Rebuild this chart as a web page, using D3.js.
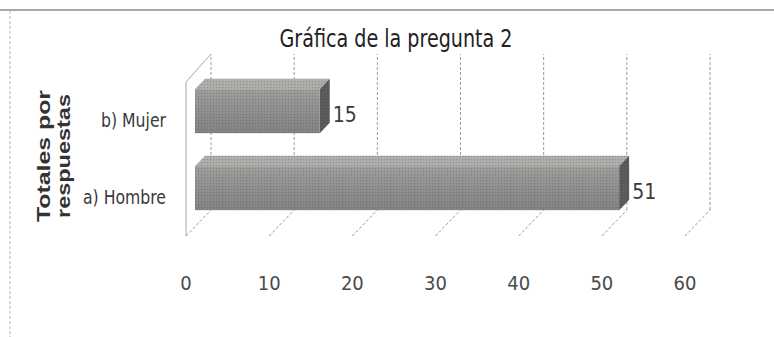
<!DOCTYPE html>
<html>
<head>
<meta charset="utf-8">
<script src="https://cdn.jsdelivr.net/npm/d3@7"></script>
<style>
  html, body { margin: 0; padding: 0; background: #fff; }
  svg { display: block; }
  text { font-family: "Liberation Sans Narrow", "DejaVu Sans Condensed", "Liberation Sans", sans-serif; }
</style>
</head>
<body>
<svg id="chart" width="774" height="337"></svg>
<script>
// Survey question 2: totals per answer
const categories = ["a) Hombre", "b) Mujer"];
const values = [51, 15];
const tickValues = [0, 10, 20, 30, 40, 50, 60];
const chartTitle = "Gráfica de la pregunta 2";
const axisTitleLines = ["Totales por", "respuestas"];

const svg = d3.select("#chart");
const W = 774, H = 337;

// 3D plot box: front plane and depth offset toward the back wall
const frontBottom = 236, frontTop = 82;
const depthX = 25, depthY = -26;
const backTop = 54;

const x = d3.scaleLinear().domain([0, 60]).range([186, 685]);
const y = d3.scaleBand().domain(categories).range([frontBottom, frontTop]).padding(0);
const barThick = y.bandwidth() / 1.75;      // gap width 75%
const barFront = 0.36, barBack = 0.76;      // bar depth position inside the box

// defs: bar shading and halftone grain
const defs = svg.append("defs");
const gFront = defs.append("linearGradient").attr("id", "gFront").attr("x1", 0).attr("y1", 0).attr("x2", 0).attr("y2", 1);
gFront.append("stop").attr("offset", "0%").attr("stop-color", "#9d9d9b");
gFront.append("stop").attr("offset", "45%").attr("stop-color", "#8d8e8f");
gFront.append("stop").attr("offset", "100%").attr("stop-color", "#7e7f80");
const grain = defs.append("pattern").attr("id", "grain").attr("width", 3).attr("height", 3).attr("patternUnits", "userSpaceOnUse");
grain.append("rect").attr("width", 1.2).attr("height", 1.2).attr("fill", "#5e5e5e").attr("opacity", 0.35);
grain.append("rect").attr("x", 1.5).attr("y", 1.5).attr("width", 1).attr("height", 1).attr("fill", "#d6d6d6").attr("opacity", 0.3);

// chart frame
svg.append("line").attr("x1", 0).attr("x2", W).attr("y1", 10).attr("y2", 10)
  .attr("stroke", "#8a8a8a").attr("stroke-width", 1.6);
svg.append("line").attr("x1", 10).attr("x2", 10).attr("y1", 11).attr("y2", H)
  .attr("stroke", "#b5b5b5").attr("stroke-width", 1).attr("stroke-dasharray", "3,2");

// back wall gridlines
const grid = svg.append("g").attr("stroke", "#9a9a9a").attr("stroke-width", 1).attr("stroke-dasharray", "3,2").attr("fill", "none");
grid.selectAll("line.back").data(tickValues).join("line").attr("class", "back")
  .attr("x1", d => x(d) + depthX).attr("x2", d => x(d) + depthX)
  .attr("y1", frontBottom + depthY).attr("y2", backTop);
// floor gridlines
grid.selectAll("line.floor").data(tickValues).join("line").attr("class", "floor")
  .attr("x1", d => x(d)).attr("x2", d => x(d) + depthX)
  .attr("y1", frontBottom).attr("y2", frontBottom + depthY);

// left wall edges
const wall = svg.append("g").attr("stroke", "#a8a8a8").attr("stroke-width", 1).attr("fill", "none");
wall.append("line").attr("x1", x(0)).attr("x2", x(0)).attr("y1", frontTop).attr("y2", frontBottom);
wall.append("line").attr("x1", x(0)).attr("x2", x(0) + depthX).attr("y1", frontTop).attr("y2", backTop);

// bars
const data = categories.map((c, i) => ({ cat: c, val: values[i] }));
const bars = svg.append("g");
data.forEach(d => {
  const cy = y(d.cat) + y.bandwidth() / 2;
  const fx0 = x(0) + depthX * barFront, fx1 = x(d.val) + depthX * barFront;
  const fy0 = cy - barThick / 2 + depthY * barFront, fy1 = cy + barThick / 2 + depthY * barFront;
  const ox = depthX * (barBack - barFront), oy = depthY * (barBack - barFront);
  const g = bars.append("g");
  // top face
  const top = [[fx0, fy0], [fx0 + ox, fy0 + oy], [fx1 + ox, fy0 + oy], [fx1, fy0]];
  g.append("path").attr("d", d3.line()(top) + "Z").attr("fill", "#aeadaa");
  g.append("path").attr("d", d3.line()(top) + "Z").attr("fill", "url(#grain)");
  // side face
  const side = [[fx1, fy0], [fx1 + ox, fy0 + oy], [fx1 + ox, fy1 + oy], [fx1, fy1]];
  g.append("path").attr("d", d3.line()(side) + "Z").attr("fill", "#555757");
  g.append("path").attr("d", d3.line()(side) + "Z").attr("fill", "url(#grain)");
  // front face
  g.append("rect").attr("x", fx0).attr("y", fy0).attr("width", fx1 - fx0).attr("height", fy1 - fy0).attr("fill", "url(#gFront)");
  g.append("rect").attr("x", fx0).attr("y", fy0).attr("width", fx1 - fx0).attr("height", fy1 - fy0).attr("fill", "url(#grain)");
  // value label
  g.append("text").attr("x", x(d.val) + depthX * barBack + 3).attr("y", cy - 5)
    .attr("dominant-baseline", "middle").attr("font-size", 21).attr("fill", "#3a3a3a")
    .text(d.val);
});

// category labels, condensed horizontally so the widest one fits 83px
const catLabels = svg.append("g").selectAll("text").data(categories).join("text")
  .attr("x", 166).attr("y", d => y(d) + y.bandwidth() / 2 + 1)
  .attr("text-anchor", "end").attr("dominant-baseline", "middle")
  .attr("font-size", 20).attr("fill", "#3a3a3a")
  .text(d => d);
const widest = d3.max(catLabels.nodes(), n => n.getComputedTextLength());
const squeeze = Math.min(1, 83 / widest);
catLabels.attr("textLength", function () { return this.getComputedTextLength() * squeeze; })
  .attr("lengthAdjust", "spacingAndGlyphs");

// value axis tick labels
svg.append("g").selectAll("text").data(tickValues).join("text")
  .attr("x", d => x(d)).attr("y", 290)
  .attr("text-anchor", "middle").attr("font-size", 20).attr("fill", "#4a4a4a")
  .text(d => d);

// title
svg.append("text").attr("x", 396).attr("y", 47).attr("text-anchor", "middle")
  .attr("font-size", 24).attr("fill", "#222")
  .attr("textLength", 233).attr("lengthAdjust", "spacingAndGlyphs")
  .text(chartTitle);

// vertical axis title
const at = svg.append("text").attr("transform", "translate(0,156) rotate(-90)")
  .attr("text-anchor", "middle").attr("font-weight", "bold").attr("font-size", 19)
  .attr("fill", "#333")
  .style("font-family", "'Liberation Sans', 'DejaVu Sans', sans-serif");
at.append("tspan").attr("x", 0).attr("y", 50).attr("textLength", 132).attr("lengthAdjust", "spacingAndGlyphs").text(axisTitleLines[0]);
at.append("tspan").attr("x", 0).attr("y", 70).attr("textLength", 124).attr("lengthAdjust", "spacingAndGlyphs").text(axisTitleLines[1]);
</script>
</body>
</html>
